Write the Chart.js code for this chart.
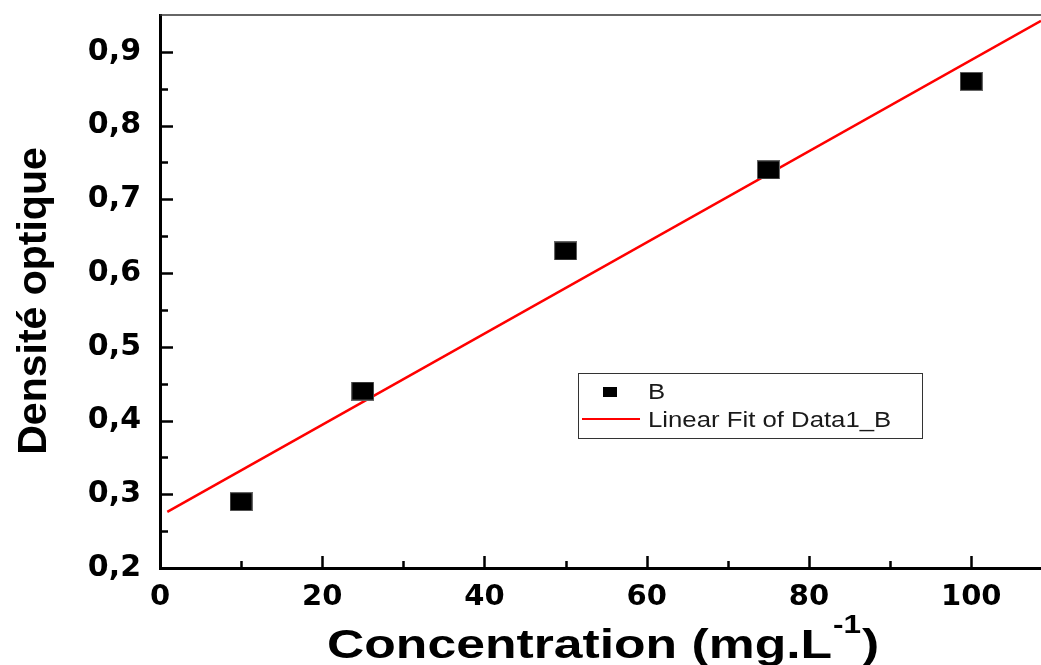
<!DOCTYPE html>
<html>
<head>
<meta charset="utf-8">
<script src="https://cdn.jsdelivr.net/npm/chart.js@4.4.1/dist/chart.umd.min.js"></script>
<style>
  html, body { margin: 0; padding: 0; background: #ffffff; }
  canvas { display: block; }
</style>
</head>
<body>
<canvas id="c" width="1041" height="665"></canvas>
<script>
// ---- data ----
const concentrations = [10, 25, 50, 75, 100];
const densities = [0.29, 0.44, 0.63, 0.74, 0.86];
const fitX = [0.9, 108.6];
const fitY = [0.276, 0.942];
const xTickValues = [0, 20, 40, 60, 80, 100];
const yTickValues = [0.2, 0.3, 0.4, 0.5, 0.6, 0.7, 0.8, 0.9];
const xMinorTicks = [10, 30, 50, 70, 90];
const yMinorTicks = [0.25, 0.35, 0.45, 0.55, 0.65, 0.75, 0.85];
const xRange = [0, 108.6];
const yRange = [0.2, 0.95];
const seriesLabels = ['B', 'Linear Fit of Data1_B'];
const yTitle = 'Densité optique';
const xTitleMain = 'Concentration (mg.L';
const xTitleSup = '-1';
const xTitleEnd = ')';

// marker image (slightly wider than tall, as in the reference)
function makeMarker(w, h) {
  const m = document.createElement('canvas');
  m.width = w; m.height = h;
  const g = m.getContext('2d');
  g.fillStyle = '#000';
  g.fillRect(0, 0, w, h);
  g.strokeStyle = '#666';
  g.lineWidth = 1;
  g.strokeRect(0.5, 0.5, w - 1, h - 1);
  return m;
}
const pointMarker = makeMarker(23, 19);

const decorPlugin = {
  id: 'decor',
  afterDraw(chart) {
    const ctx = chart.ctx;
    const xs = chart.scales.x, ys = chart.scales.y;
    const area = chart.chartArea;
    ctx.save();
    // top frame line
    ctx.strokeStyle = '#333';
    ctx.lineWidth = 1.5;
    ctx.beginPath();
    ctx.moveTo(area.left, area.top);
    ctx.lineTo(area.right, area.top);
    ctx.stroke();

    // inward ticks
    ctx.strokeStyle = '#000';
    ctx.lineWidth = 2.5;
    ctx.beginPath();
    yTickValues.forEach(v => { const p = Math.round(ys.getPixelForValue(v)) + 0.5; ctx.moveTo(area.left, p); ctx.lineTo(area.left + 13, p); });
    yMinorTicks.forEach(v => { const p = Math.round(ys.getPixelForValue(v)) + 0.5; ctx.moveTo(area.left, p); ctx.lineTo(area.left + 8, p); });
    xTickValues.forEach(v => { const p = Math.round(xs.getPixelForValue(v)) + 0.5; ctx.moveTo(p, area.bottom); ctx.lineTo(p, area.bottom - 12); });
    xMinorTicks.forEach(v => { const p = Math.round(xs.getPixelForValue(v)) + 0.5; ctx.moveTo(p, area.bottom); ctx.lineTo(p, area.bottom - 7); });
    ctx.stroke();

    // y title
    ctx.fillStyle = '#000';
    ctx.save();
    ctx.translate(35, 301);
    ctx.rotate(-Math.PI / 2);
    ctx.font = 'bold 41px "Liberation Sans", Arial, sans-serif';
    ctx.textAlign = 'center';
    ctx.textBaseline = 'middle';
    ctx.fillText(yTitle, 0, 0);
    ctx.restore();

    // x title with superscript
    const sx = 1.26;
    ctx.save();
    ctx.textAlign = 'left';
    ctx.textBaseline = 'alphabetic';
    ctx.font = 'bold 41px "Liberation Sans", Arial, sans-serif';
    const w1 = ctx.measureText(xTitleMain).width * sx;
    ctx.save(); ctx.translate(327, 658); ctx.scale(sx, 1); ctx.fillText(xTitleMain, 0, 0); ctx.restore();
    ctx.font = 'bold 25px "Liberation Sans", Arial, sans-serif';
    const w2 = ctx.measureText(xTitleSup).width * sx;
    ctx.save(); ctx.translate(327 + w1 + 1, 633); ctx.scale(sx, 1); ctx.fillText(xTitleSup, 0, 0); ctx.restore();
    ctx.font = 'bold 41px "Liberation Sans", Arial, sans-serif';
    ctx.save(); ctx.translate(327 + w1 + w2 + 2, 658); ctx.scale(sx, 1); ctx.fillText(xTitleEnd, 0, 0); ctx.restore();
    ctx.restore();

    // legend box
    const ds = chart.data.datasets;
    ctx.fillStyle = '#fff';
    ctx.fillRect(578.5, 373.5, 344, 65);
    ctx.strokeStyle = '#333';
    ctx.lineWidth = 1;
    ctx.strokeRect(578.5, 373.5, 344, 65);
    ctx.fillStyle = '#000';
    ctx.fillRect(603, 387, 14, 10);
    ctx.strokeStyle = ds[1].borderColor;
    ctx.lineWidth = 2;
    ctx.beginPath(); ctx.moveTo(582, 419); ctx.lineTo(640, 419); ctx.stroke();
    ctx.fillStyle = '#1a1a1a';
    ctx.font = '22px "Liberation Sans", Arial, sans-serif';
    ctx.textBaseline = 'middle';
    ctx.textAlign = 'left';
    ctx.save(); ctx.translate(648, 393); ctx.scale(1.17, 1); ctx.fillText(ds[0].label, 0, 0); ctx.restore();
    ctx.save(); ctx.translate(648, 421); ctx.scale(1.17, 1); ctx.fillText(ds[1].label, 0, 0); ctx.restore();
    ctx.restore();
  }
};

const tickFont = { family: '"DejaVu Sans", sans-serif', weight: 'bold', size: 29 };

new Chart(document.getElementById('c'), {
  type: 'scatter',
  data: {
    datasets: [
      {
        label: seriesLabels[0],
        data: concentrations.map((x, i) => ({ x: x, y: densities[i] })),
        pointStyle: pointMarker,
        pointRadius: 12,
        pointHoverRadius: 12,
        showLine: false,
        order: 1
      },
      {
        label: seriesLabels[1],
        data: fitX.map((x, i) => ({ x: x, y: fitY[i] })),
        showLine: true,
        borderColor: '#ff0000',
        borderWidth: 2.5,
        pointRadius: 0,
        pointHoverRadius: 0,
        fill: false,
        order: 2
      }
    ]
  },
  options: {
    responsive: false,
    devicePixelRatio: 1,
    animation: false,
    events: [],
    layout: { autoPadding: false, padding: { top: 15, right: 0, left: 0, bottom: 0 } },
    plugins: { legend: { display: false }, tooltip: { enabled: false }, title: { display: false } },
    scales: {
      x: {
        type: 'linear',
        min: xRange[0],
        max: xRange[1],
        afterBuildTicks: s => { s.ticks = xTickValues.map(v => ({ value: v })); },
        afterFit: s => { s.height = 97; s.paddingLeft = 0; s.paddingRight = 0; },
        grid: { display: true, drawOnChartArea: false, drawTicks: false, color: 'rgba(0,0,0,0)' },
        border: { display: true, color: '#000', width: 3 },
        ticks: { font: tickFont, color: '#000', padding: 12, maxRotation: 0, autoSkip: false,
                 callback: v => String(v) }
      },
      y: {
        type: 'linear',
        min: yRange[0],
        max: yRange[1],
        afterBuildTicks: s => { s.ticks = yTickValues.map(v => ({ value: v })); },
        afterFit: s => { s.width = 160; s.paddingTop = 0; s.paddingBottom = 0; },
        grid: { display: true, drawOnChartArea: false, drawTicks: false, color: 'rgba(0,0,0,0)' },
        border: { display: true, color: '#000', width: 3 },
        ticks: { font: { family: '"DejaVu Sans", sans-serif', weight: 'bold', size: 30 }, color: '#000', padding: 19, autoSkip: false,
                 callback: v => Number(v).toFixed(1).replace('.', ',') }
      }
    }
  },
  plugins: [decorPlugin]
});
</script>
</body>
</html>
